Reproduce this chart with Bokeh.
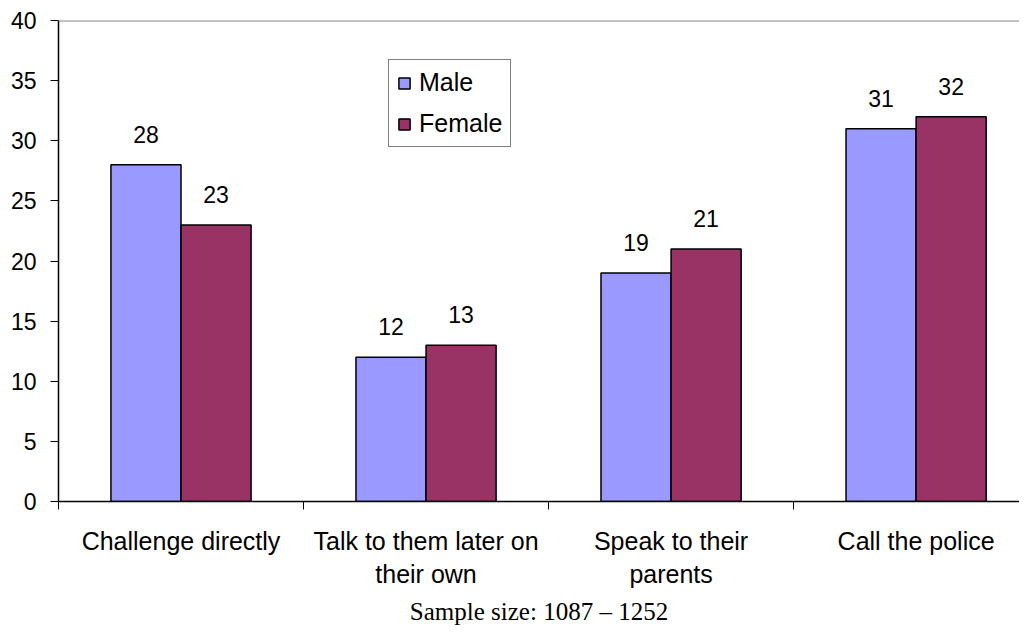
from bokeh.plotting import figure
from bokeh.models import Range1d, FixedTicker, ColumnDataSource, Legend, LegendItem, Span
from bokeh.core.properties import value
from bokeh.embed import file_html
from bokeh.resources import INLINE

categories = ["Challenge directly", "Talk to them later on\ntheir own", "Speak to their\nparents", "Call the police"]
male = [28, 12, 19, 31]
female = [23, 13, 21, 32]
y_ticks = [0, 5, 10, 15, 20, 25, 30, 35, 40]
footnote = "Sample size: 1087 \u2013 1252"

MALE_C = "#9999FF"
FEMALE_C = "#993366"
FONT = "Liberation Sans"

n = len(categories)
centers = [i + 0.5 for i in range(n)]
bw = 0.286
male_x = [c - bw / 2 for c in centers]
female_x = [c + bw / 2 for c in centers]

p = figure(width=1019, height=628, output_backend="svg", toolbar_location=None,
           x_range=Range1d(0, 3.922), y_range=Range1d(0, 40),
           min_border_left=58, min_border_right=0, min_border_top=20, min_border_bottom=126)
p.xgrid.visible = False
p.ygrid.visible = False
p.outline_line_color = None
p.background_fill_color = "white"
p.border_fill_color = "white"

src_m = ColumnDataSource(dict(x=male_x, top=male, lab=[str(v) for v in male]))
src_f = ColumnDataSource(dict(x=female_x, top=female, lab=[str(v) for v in female]))
rm = p.vbar(x="x", top="top", width=bw, bottom=0, source=src_m, fill_color=MALE_C, line_color="black", line_width=1.5)
rf = p.vbar(x="x", top="top", width=bw, bottom=0, source=src_f, fill_color=FEMALE_C, line_color="black", line_width=1.5)

for src in (src_m, src_f):
    p.text(x="x", y="top", text="lab", source=src, text_align="center", text_baseline="bottom",
           y_offset=-22, text_font=value(FONT), text_font_size="23px", text_color="black")

p.add_layout(Span(location=40, dimension="width", line_color="#888888", line_width=2))

# y axis
p.yaxis.ticker = FixedTicker(ticks=y_ticks)
p.yaxis.axis_line_color = "black"
p.yaxis.axis_line_width = 1.5
p.yaxis.major_tick_out = 8
p.yaxis.major_tick_in = 0
p.yaxis.minor_tick_line_color = None
p.yaxis.major_label_text_font = FONT
p.yaxis.major_label_text_font_size = "23px"
p.yaxis.major_label_text_color = "black"
p.yaxis.major_label_standoff = 14

# x axis
p.xaxis.ticker = FixedTicker(ticks=centers, minor_ticks=[0, 1, 2, 3])
p.xaxis.major_label_overrides = {c: lab for c, lab in zip(centers, categories)}
p.xaxis.major_tick_line_color = None
p.xaxis.major_tick_out = 0
p.xaxis.major_tick_in = 0
p.xaxis.minor_tick_line_color = "black"
p.xaxis.minor_tick_out = 8
p.xaxis.minor_tick_in = 0
p.xaxis.axis_line_color = "black"
p.xaxis.axis_line_width = 1.5
p.xaxis.major_label_text_font = FONT
p.xaxis.major_label_text_font_size = "25px"
p.xaxis.major_label_text_color = "black"
p.xaxis.major_label_standoff = 17
p.xaxis.axis_label = footnote
p.xaxis.axis_label_text_font = "Liberation Serif"
p.xaxis.axis_label_text_font_style = "normal"
p.xaxis.axis_label_text_font_size = "25px"
p.xaxis.axis_label_text_color = "black"
p.xaxis.axis_label_standoff = 7

legend = Legend(items=[LegendItem(label="Male", renderers=[rm]), LegendItem(label="Female", renderers=[rf])],
                location=(330, 354))
legend.border_line_color = "black"
legend.border_line_width = 1
legend.background_fill_color = "white"
legend.label_text_font = FONT
legend.label_text_font_size = "25px"
legend.label_text_color = "black"
legend.glyph_width = 14
legend.glyph_height = 14
legend.label_standoff = 8
legend.spacing = 12
legend.padding = 8
legend.margin = 0
p.add_layout(legend, "center")

open("out.html", "w").write(file_html(p, INLINE))
